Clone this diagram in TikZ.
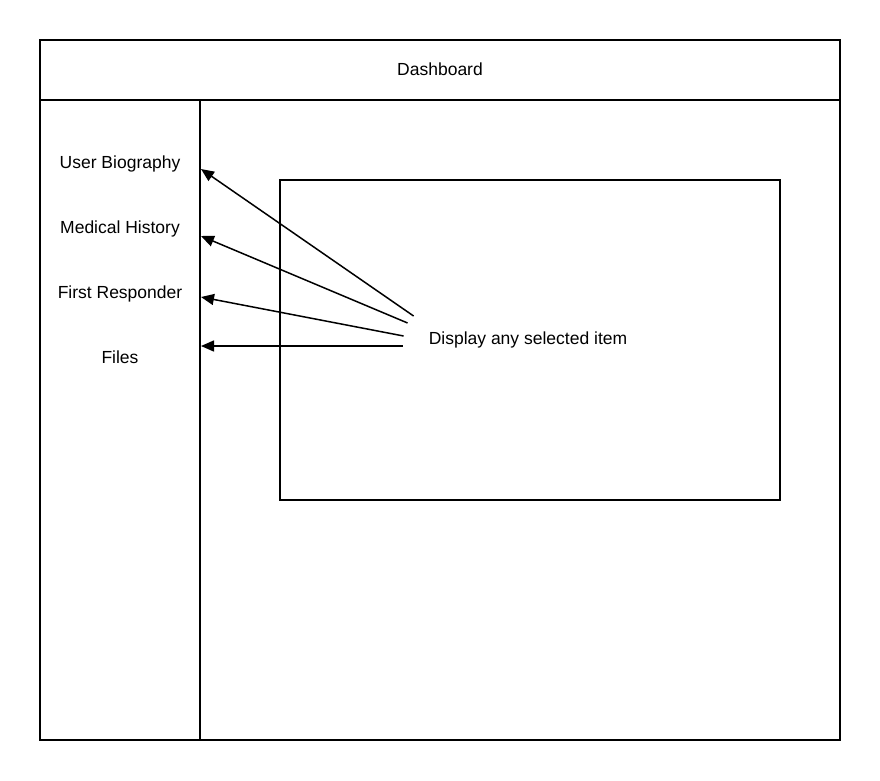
\documentclass[tikz,border=0pt]{standalone}
\usepackage{fontspec}
\setmainfont{Liberation Sans}
\usepackage{tikz}
\usetikzlibrary{calc}
\usetikzlibrary{arrows.meta}
\tikzset{
	frame/.style={line width=2pt},
	menuitem/.style={font=\fontsize{17.5}{20}\selectfont, inner sep=0pt},
	pointer/.style={line width=1.5pt, -{Triangle[length=13pt,width=11pt]}},
}

\begin{document}
\begin{tikzpicture}[x=1pt,y=-1pt]
		% page size
		\useasboundingbox (0,0) rectangle (880,780);
		\draw[frame] (40,40) rectangle (840,740);
		\draw[frame] (40,100) -- (840,100);
		\draw[frame] (200,100) -- (200,740);
		\draw[frame] (280,180) rectangle (780,500);
		\node[menuitem] (dash) at (440,69) {Dashboard};
		\node[menuitem] (bio) at (120,164) {User Biography};
		\node[menuitem] (med) at (120,229) {Medical History};
		\node[menuitem] (resp) at (120,294) {First Responder};
		\node[menuitem] (files) at (120,357) {Files};
		\node[menuitem] (show) at (528,340) {Display any selected item};
		% arrow tips on the sidebar line
		\coordinate (tbio) at (201,169);
		\coordinate (tmed) at (201,236);
		\coordinate (tresp) at (201,297);
		\coordinate (tfiles) at (201,346);
		\draw[pointer] ($ (show.west) + (-15,-24) $) -- (tbio);
		\draw[pointer] ($ (show.west) + (-21,-17) $) -- (tmed);
		\draw[pointer] ($ (show.west) + (-25,-4) $) -- (tresp);
		\draw[pointer] ($ (show.west) + (-26,6) $) -- (tfiles);
	\end{tikzpicture}
\end{document}
